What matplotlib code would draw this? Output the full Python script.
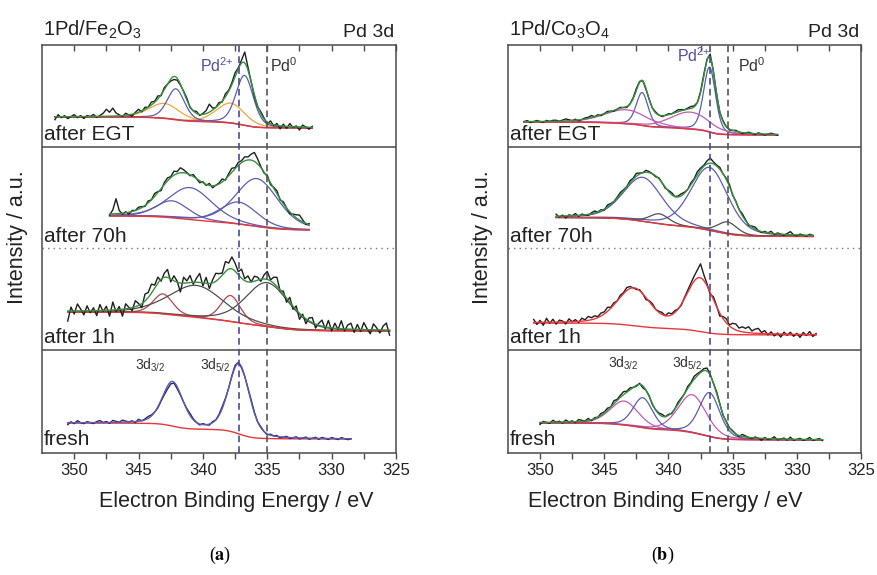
import numpy as np
import matplotlib
matplotlib.use("Agg")
import matplotlib.pyplot as plt
from matplotlib.transforms import blended_transform_factory

plt.rcParams['font.family'] = ['Liberation Sans', 'DejaVu Sans']
plt.rcParams['mathtext.fontset'] = 'custom'
plt.rcParams['mathtext.rm'] = 'Liberation Sans'
plt.rcParams['mathtext.it'] = 'Liberation Sans:italic'

# ---------------- binding-energy axis ----------------
x_major = [350, 345, 340, 335, 330, 325]
x_minor = [347.5, 342.5, 337.5, 332.5, 327.5]
pd2_a, pd0_a = 337.2, 335.0
pd2_b, pd0_b = 336.8, 335.4
step = 0.25  # eV between measured points

# ---------------- (a) 1Pd/Fe2O3 ----------------
# after EGT
a_egt_start = 351.5
a_egt_bg = [11, 0]                       # Shirley end levels (high BE, low BE)
a_egt_centers = [343.0, 337.85, 342.1, 336.76]
a_egt_heights = [15, 20, 31, 50]
a_egt_fwhm = [2.8, 2.6, 1.6, 1.6]
a_egt_resid = [-3, 2, -1, 1, -2, 0, 2, -1, 1, -2, 1,
               0, 2, -1, 1, 3, 7, 4, 8, 3, 1,
               -1, 2, 0, -2, 1, 3, -1, 2, 0, 3,
               1, 3, -1, 2, 0, -2, -3, -2, -1, 1,
               2, -1, 0, 2, -1, 1, 3, 8, 2, 0,
               2, -1, 3, 1, 2, 4, 1, 3, 11, 3,
               0, -2, -1, 2, 1, -2, 3, -1, 2, -3,
               2, -2, 3, -1, 1, -3, 2, 0, -2, 1]

# after 70h
a_70h_start = 347.25
a_70h_bg = [14, 0]
a_70h_centers = [342.4, 341.0, 337.2, 335.8]
a_70h_heights = [17, 32, 22, 48]
a_70h_fwhm = [3.0, 4.0, 3.4, 3.9]
a_70h_resid = [-1, 4, 15, 3, -1, 1, -2, 1, 0, 2,
               1, -1, 2, 0, 3, 1, -2, 2, 3, 1,
               4, 2, 5, 3, 1, -1, 2, 0, -2, 1,
               -1, 2, -2, 0, 1, 3, -1, 2, 4, 1,
               3, 2, 4, 3, 6, 9, 5, 1, -1, 2,
               -2, 1, 3, -1, 2, 0, -2, 1, 3, 5,
               2, -1, 1]

# after 1h
a_1h_start = 350.5
a_1h_bg = [19, 0]
a_1h_centers = [343.1, 337.85, 340.5, 335.0]
a_1h_heights = [20, 26, 32, 44]
a_1h_fwhm = [1.8, 1.8, 5.0, 4.0]
a_1h_resid = [-10, 4, -3, 7, 2, -4, 5, -2, 3, -5,
              6, -1, 4, -6, 8, -2, 3, -7, 5, 1,
              -3, 6, 2, -4, 7, 5, 9, 3, 6, -2,
              4, 8, -3, 5, 1, -9, 6, 2, 7, -2,
              4, 9, -3, 6, -5, 3, 8, 5, 2, 10,
              6, 12, 8, 3, 9, 2, 6, 0, 5, 3,
              -2, 4, 8, 1, 6, 9, -1, 3, -4, 5,
              -3, 4, -6, 2, -5, 3, 5, -4, 2, 6,
              -2, 7, -3, 5, -1, 8, -2, 4, 6, -3,
              5, -2, 7, 1, -4, 6, 2, -3, 4, 7, -5]

# fresh
a_fr_start = 350.5
a_fr_bg = [16, 0]
a_fr_centers = [342.35, 337.2]
a_fr_heights = [44, 70]
a_fr_fwhm = [1.9, 1.9]
a_fr_resid = [-2, 1, -1, 2, 0, -1, 1, 0, -1, 1,
              2, 0, 1, -1, 2, 1, 0, 2, 1, 0,
              1, -1, 2, 0, 1, 2, 1, 0, -1, -1,
              -2, -3, -2, -1, -2, -1, 0, 1, 2, 1,
              0, -1, 1, 0, -1, 1, 0, 1, 2, 1,
              0, 1, 2, 1, -1, 0, 1, 2, 1, 0,
              1, 0, -1, 1, 0, 1, -1, 0, 1, -1,
              0, 1, -1, 0, 1, -1, 0, 1, -1, 1,
              0, -1, 1, 0, -1, 1, 0, -1, 0]

# ---------------- (b) 1Pd/Co3O4 ----------------
b_egt_start = 351.25
b_egt_bg = [13, 0]
b_egt_centers = [342.05, 336.8, 343.3, 338.3]
b_egt_heights = [33, 65, 14, 17]
b_egt_fwhm = [1.1, 1.1, 4.0, 3.6]
b_egt_resid = [0, 1, -1, 0, 1, 0, -1, 1, 0, 1,
               1, 0, 1, 2, 1, 0, 1, -1, 0, 1,
               1, 2, 0, 1, -1, 0, 1, 0, -1, 0,
               1, 0, -1, 0, 1, 2, 1, 0, -1, 0,
               0, 1, 0, -1, 0, 1, 0, 1, 2, 1,
               0, 1, 2, 1, 0, 1, 2, 1, 3, 1,
               0, -1, 1, 0, -1, 0, 1, 0, -1, 0,
               1, 0, -1, 1, 0, -1, 0, 1, 0, -1]

b_70h_start = 348.75
b_70h_bg = [19, 0]
b_70h_centers = [342.0, 336.8, 340.7, 335.4]
b_70h_heights = [44, 63, 10, 12]
b_70h_fwhm = [3.6, 3.4, 1.8, 1.8]
b_70h_resid = [2, -1, 1, -2, 1, 0, 2, -1, 1, 0,
               -1, 1, 2, 0, 1, -1, 2, 1, 0, 1,
               2, 1, 0, 2, 1, 3, 1, 0, 2, 1,
               0, -1, 1, 0, -1, 1, 2, 0, 1, 2,
               1, 0, 2, 1, 3, 2, 1, 3, 5, 2,
               1, 2, 0, 1, 2, -1, 1, 0, 2, 1,
               -1, 1, 2, 0, -1, 1, 0, 2, -1, 1,
               0, -1, 1, 3, 0, -1, 1, 0, -1, 1, 0]

b_1h_start = 350.5
b_1h_bg = [12, 0]
b_1h_centers = [342.7, 337.55]
b_1h_heights = [37, 53]
b_1h_fwhm = [3.1, 2.6]
b_1h_resid = [3, -2, 2, -3, 4, -1, 3, -2, 2, 1,
              -2, 3, 0, 2, -1, 3, 1, 4, 2, 3,
              1, 3, 2, 4, 1, 2, 0, 2, 1, 3,
              2, 0, -1, 1, 0, -2, 1, 2, 0, 1,
              2, 0, 3, 1, 2, 0, -1, 1, 2, 3,
              5, 8, 14, 6, 2, -2, 3, 1, -3, 2,
              4, 1, 5, 6, 3, 5, 4, 6, 2, 4,
              5, 1, 3, -1, 2, -2, 1, -3, 2, -1,
              2, -2, 1, -3, 2, -1, 3, -2, 1]

b_fr_start = 350.0
b_fr_bg = [17, 0]
b_fr_centers = [343.45, 338.15, 342.0, 336.8]
b_fr_heights = [24, 38, 30, 44]
b_fr_fwhm = [2.6, 2.6, 1.8, 1.9]
b_fr_resid = [-2, 1, 0, -1, 2, 0, 1, -1, 2, 0,
              1, -1, 2, 1, 0, 2, -1, 1, 0, 2,
              1, 2, 0, 3, 1, 2, 3, 1, 2, 0,
              -1, 1, -2, 0, 1, -1, 0, 1, 2, 0,
              1, -1, 0, 2, 1, 0, 2, 1, 3, 2,
              1, 2, 3, 1, 0, 2, 1, -1, 1, 0,
              1, 0, -1, 2, 1, 0, -1, 1, 0, -2,
              1, -1, 0, 2, -1, 0, 1, -1, 2, -1,
              0, 1, -1, 0, 2, -1, 0, 1, -1]

# ---------------- colours ----------------
RAW = '#1e1e1e'
NAVY = '#25255f'
GREEN = '#36913f'
RED = '#e8363c'
BLUE = '#5c5cb2'
ORANGE = '#f2a53c'
MAGENTA = '#c35ab6'
GRAY = '#4f4f4f'
BROWN = '#b3464f'
SPINE = '#4a4a4a'


def pseudo_voigt(E, c, h, w, m=0.3):
    u = (E - c) / w
    return h * (m / (1 + 4 * u ** 2) + (1 - m) * np.exp(-4 * np.log(2) * u ** 2))


def fit_model(start, resid, bg_ends, centers, heights, fwhms, sub=5):
    n = len(resid)
    E = np.linspace(start, start - step * (n - 1), sub * (n - 1) + 1)
    comps = [pseudo_voigt(E, c, h, w) for c, h, w in zip(centers, heights, fwhms)]
    total = np.sum(comps, axis=0)
    cum = np.cumsum(total[::-1])[::-1]
    cum = cum - cum[-1]
    bg = bg_ends[1] + (bg_ends[0] - bg_ends[1]) * cum / cum[0]
    env = bg + total
    raw = env[::sub] + np.asarray(resid, float)
    return E, E[::sub], raw, bg, comps, env


panels = [
    dict(title=r'1Pd/Fe$_2$O$_3$', pd2=pd2_a, pd0=pd0_a, pd2_col='#4a4a90',
         pd2_txt=(340.2, 381), pd0_txt=(334.75, 381),
         d32=(345.3, 83), d52=(340.25, 83), xlab_x=0.55, ylab_x=-0.04,
         spectra=[
             dict(label='after EGT', y0=325, lab_y=313, raw_c=RAW, env_c=GREEN,
                  data=(a_egt_start, a_egt_resid, a_egt_bg, a_egt_centers, a_egt_heights, a_egt_fwhm),
                  comp_c=[ORANGE, ORANGE, BLUE, BLUE]),
             dict(label='after 70h', y0=223, lab_y=211, raw_c=RAW, env_c=GREEN,
                  data=(a_70h_start, a_70h_resid, a_70h_bg, a_70h_centers, a_70h_heights, a_70h_fwhm),
                  comp_c=[BLUE, BLUE, BLUE, BLUE]),
             dict(label='after 1h', y0=122, lab_y=110, raw_c=RAW, env_c=GREEN,
                  data=(a_1h_start, a_1h_resid, a_1h_bg, a_1h_centers, a_1h_heights, a_1h_fwhm),
                  comp_c=[BROWN, BROWN, GRAY, GRAY]),
             dict(label='fresh', y0=14, lab_y=8, raw_c=NAVY, env_c=BLUE,
                  data=(a_fr_start, a_fr_resid, a_fr_bg, a_fr_centers, a_fr_heights, a_fr_fwhm),
                  comp_c=[]),
         ]),
    dict(title=r'1Pd/Co$_3$O$_4$', pd2=pd2_b, pd0=pd0_b, pd2_col='#4a4a90',
         pd2_txt=(339.3, 391), pd0_txt=(334.6, 381),
         d32=(344.7, 85), d52=(339.7, 85), xlab_x=0.445, ylab_x=-0.043,
         spectra=[
             dict(label='after EGT', y0=318, lab_y=313, raw_c=RAW, env_c=GREEN,
                  data=(b_egt_start, b_egt_resid, b_egt_bg, b_egt_centers, b_egt_heights, b_egt_fwhm),
                  comp_c=[BLUE, BLUE, MAGENTA, MAGENTA]),
             dict(label='after 70h', y0=216.5, lab_y=211, raw_c=RAW, env_c=GREEN,
                  data=(b_70h_start, b_70h_resid, b_70h_bg, b_70h_centers, b_70h_heights, b_70h_fwhm),
                  comp_c=[BLUE, BLUE, GRAY, GRAY]),
             dict(label='after 1h', y0=118, lab_y=110, raw_c=RAW, env_c=RED,
                  data=(b_1h_start, b_1h_resid, b_1h_bg, b_1h_centers, b_1h_heights, b_1h_fwhm),
                  comp_c=[]),
             dict(label='fresh', y0=13, lab_y=8, raw_c=RAW, env_c=GREEN,
                  data=(b_fr_start, b_fr_resid, b_fr_bg, b_fr_centers, b_fr_heights, b_fr_fwhm),
                  comp_c=[MAGENTA, MAGENTA, BLUE, BLUE]),
         ]),
]

W, H = 878, 575
fig = plt.figure(figsize=(W / 100, H / 100), dpi=100)
fig.patch.set_facecolor('white')

ax_px = [(42, 396), (508, 861)]
top_px, bot_px = 45, 453

for (l, r), p, tag, tagx in zip(ax_px, panels, ['a', 'b'], [220, 663]):
    ax = fig.add_axes([l / W, 1 - bot_px / H, (r - l) / W, (bot_px - top_px) / H])
    ax.set_xlim(352.5, 325)
    ax.set_ylim(0, bot_px - top_px)
    for s in ax.spines.values():
        s.set_color(SPINE)
        s.set_linewidth(1.1)
    ax.set_yticks([])
    ax.set_xticks(x_major)
    ax.set_xticks(x_minor, minor=True)
    ax.tick_params(axis='x', which='both', direction='out', length=4.5, width=1,
                   color=SPINE, labelsize=12, labelcolor='#222222', pad=3)
    sec = ax.secondary_xaxis('top')
    sec.set_xticks(x_major)
    sec.set_xticks(x_minor, minor=True)
    sec.tick_params(axis='x', which='both', direction='in', length=4.5, width=1,
                    color=SPINE, labeltop=False)
    sec.spines['top'].set_visible(False)

    # panel separators
    ax.axhline(306, color=SPINE, lw=1.1)
    ax.axhline(103, color=SPINE, lw=1.1)
    ax.axhline(205, color='#777777', lw=1.0, ls=(0, (1, 3)))

    # reference positions
    ax.axvline(p['pd2'], color=p['pd2_col'], lw=1.2, ls=(0, (4, 2.5)), zorder=5)
    ax.axvline(p['pd0'], color='#555555', lw=1.2, ls=(0, (4, 2.5)), zorder=5)

    for sp in p['spectra']:
        E, Er, raw, bg, comps, env = fit_model(*sp['data'])
        y0 = sp['y0']
        ax.plot(Er, raw + y0, color=sp['raw_c'], lw=1.0, zorder=3)
        for comp, c in zip(comps, sp['comp_c']):
            ax.plot(E, bg + comp + y0, color=c, lw=0.9, zorder=2)
        ax.plot(E, bg + y0, color=RED, lw=1.0, zorder=2)
        ax.plot(E, env + y0, color=sp['env_c'], lw=1.0, zorder=4)
        ax.text(0.006, sp['lab_y'], sp['label'], fontsize=15, color='#222222',
                transform=blended_transform_factory(ax.transAxes, ax.transData),
                va='baseline', ha='left', zorder=6)

    ax.text(p['pd2_txt'][0], p['pd2_txt'][1], r'Pd$\mathregular{^{2{+}}}$', color='#4f4f9e',
            fontsize=11.5, va='baseline', ha='left')
    ax.text(p['pd0_txt'][0], p['pd0_txt'][1], r'Pd$\mathregular{^{0}}$', color='#333333',
            fontsize=11.5, va='baseline', ha='left')
    ax.text(p['d32'][0], p['d32'][1], r'3d$_{3/2}$', color='#333333', fontsize=10,
            va='baseline', ha='left')
    ax.text(p['d52'][0], p['d52'][1], r'3d$_{5/2}$', color='#333333', fontsize=10,
            va='baseline', ha='left')

    ax.text(0.003, 417, p['title'], fontsize=14.5, color='#222222', ha='left', va='baseline',
            transform=blended_transform_factory(ax.transAxes, ax.transData), clip_on=False)
    ax.text(0.995, 416, 'Pd 3d', fontsize=14, color='#222222', ha='right', va='baseline',
            transform=blended_transform_factory(ax.transAxes, ax.transData), clip_on=False)

    ax.set_xlabel('Electron Binding Energy / eV', fontsize=15.5, color='#222222')
    ax.xaxis.set_label_coords(p['xlab_x'], -0.093)
    ax.set_ylabel('Intensity / a.u.', fontsize=15.5, color='#222222')
    ax.yaxis.set_label_coords(p['ylab_x'], 0.53)

    fig.text(tagx / W, 1 - 555 / H, r'($\mathbf{' + tag + r'}$)', ha='center', va='center',
             fontsize=13, family='Liberation Serif', math_fontfamily='stix')

fig.savefig('out.png', dpi=100, facecolor='white')
